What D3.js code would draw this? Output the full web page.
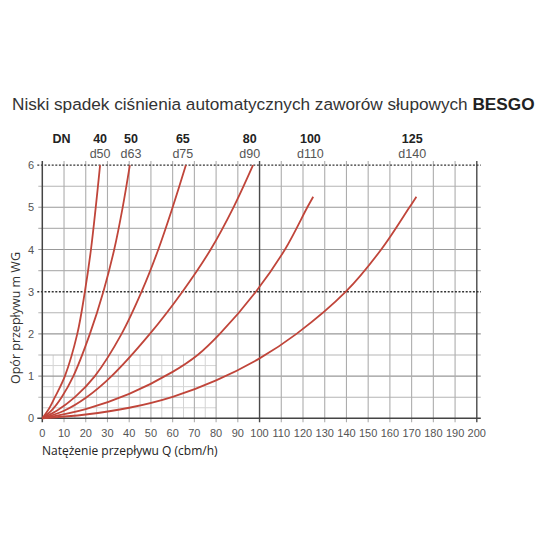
<!DOCTYPE html>
<html>
<head>
<meta charset="utf-8">
<script src="https://cdn.jsdelivr.net/npm/d3@7"></script>
<style>
  body { margin: 0; background: #fff; }
  svg { display: block; }
</style>
</head>
<body>
<svg id="chart" width="550" height="550"></svg>
<script>
// DN sizes and pipe diameters, one curve each
var dnLabels = ["40", "50", "65", "80", "100", "125"];
var pipeLabels = ["d50", "d63", "d75", "d90", "d110", "d140"];

// points: flow Q (cbm/h) and head (m WG)
var flowD50  = [0, 3, 5.8, 10.4, 16.1, 19.6, 22.4, 24.6, 26.6];
var headD50  = [0, 0.22, 0.5, 1, 2, 3, 4, 5, 6];
var flowD63  = [0, 4.5, 8.9, 14.3, 21.9, 28.1, 33.1, 37.0, 40.3];
var headD63  = [0, 0.2, 0.5, 1, 2, 3, 4, 5, 6];
var flowD75  = [0, 7, 15.0, 24.2, 36.5, 45.7, 53.4, 60.0, 66.1];
var headD75  = [0, 0.19, 0.5, 1, 2, 3, 4, 5, 6];
var flowD90  = [0, 10, 20.4, 31.9, 49.5, 64.5, 77.5, 88.0, 97.0];
var headD90  = [0, 0.18, 0.5, 1, 2, 3, 4, 5, 6];
var flowD110 = [0, 20, 40, 60, 71.5, 81.7, 98.3, 111.7, 122.0, 124.7];
var headD110 = [0, 0.22, 0.58, 1.1, 1.5, 2, 3, 4, 5, 5.25];
var flowD140 = [0, 20, 40, 60, 80, 100, 117, 139.7, 156, 169, 172.2];
var headD140 = [0, 0.09, 0.25, 0.51, 0.9, 1.42, 2, 3, 4, 5, 5.25];

var flows = [flowD50, flowD63, flowD75, flowD90, flowD110, flowD140];
var heads = [headD50, headD63, headD75, headD90, headD110, headD140];
// label centres along Q
var labelFlow = [26.6, 40.8, 64.7, 95.5, 123.4, 170.3];

var xTicks = d3.range(0, 201, 10);
var yTicks = [0, 1, 2, 3, 4, 5, 6];

var svg = d3.select("#chart");
var x = d3.scaleLinear().domain([0, 200]).range([42.3, 476.8]);
var y = d3.scaleLinear().domain([0, 6]).range([418.3, 165.1]);

var narrow = "'Liberation Sans Narrow', 'Liberation Sans', Arial, sans-serif";
var sans = "'Liberation Sans', Arial, sans-serif";

// title
var title = svg.append("text")
  .attr("x", 12).attr("y", 110)
  .attr("font-family", sans).attr("font-size", 17.2)
  .attr("fill", "#333");
title.append("tspan").text("Niski spadek ciśnienia automatycznych zaworów słupowych ");
title.append("tspan").attr("font-weight", "bold").attr("fill", "#222").text("BESGO");

// fine grid in lower-left corner
var g = svg.append("g");
var fineX = d3.range(5, 80, 10);
var fineY = [0.25, 0.75, 1.25];
g.selectAll(".fx").data(fineX).enter().append("line")
  .attr("x1", d => x(d)).attr("x2", d => x(d))
  .attr("y1", y(0)).attr("y2", y(1.5))
  .attr("stroke", "#d4d4d4").attr("stroke-width", 1);
g.selectAll(".fy").data(fineY).enter().append("line")
  .attr("x1", x(0)).attr("x2", x(80))
  .attr("y1", d => y(d)).attr("y2", d => y(d))
  .attr("stroke", "#d4d4d4").attr("stroke-width", 1);

// main grid
var hLines = d3.range(0.5, 6, 0.5).filter(d => d !== 3);
g.selectAll(".hy").data(hLines).enter().append("line")
  .attr("x1", x(0) - 4).attr("x2", x(200) + 4)
  .attr("y1", d => y(d)).attr("y2", d => y(d))
  .attr("stroke", d => d % 1 === 0 ? "#999" : "#b5b5b5").attr("stroke-width", 1.1);
g.selectAll(".vx").data(xTicks.slice(1)).enter().append("line")
  .attr("x1", d => x(d)).attr("x2", d => x(d))
  .attr("y1", y(0) + 4).attr("y2", y(6) - 4)
  .attr("stroke", d => d % 100 === 0 ? "#4a4a4a" : "#adadad")
  .attr("stroke-width", d => d % 100 === 0 ? 1.4 : 1.1);

// dotted lines at 3 and 6
g.selectAll(".dot").data([3, 6]).enter().append("line")
  .attr("x1", x(0) - 5).attr("x2", x(200) + 4)
  .attr("y1", d => y(d)).attr("y2", d => y(d))
  .attr("stroke", "#333").attr("stroke-width", 1.4)
  .attr("stroke-dasharray", "2,1.6");

// axes lines
g.append("line")
  .attr("x1", x(0) - 5).attr("x2", x(200) + 4)
  .attr("y1", y(0)).attr("y2", y(0))
  .attr("stroke", "#444").attr("stroke-width", 1.5);
g.append("line")
  .attr("x1", x(0)).attr("x2", x(0))
  .attr("y1", y(0) + 4).attr("y2", y(6) - 4)
  .attr("stroke", "#444").attr("stroke-width", 1.5);

// tick labels
svg.selectAll(".xl").data(xTicks).enter().append("text")
  .attr("x", d => x(d)).attr("y", 437)
  .attr("text-anchor", "middle")
  .attr("font-family", narrow).attr("font-size", 11)
  .attr("fill", "#555").text(d => d);
svg.selectAll(".yl").data(yTicks).enter().append("text")
  .attr("x", 34).attr("y", d => y(d) + 4)
  .attr("text-anchor", "end")
  .attr("font-family", narrow).attr("font-size", 11)
  .attr("fill", "#555").text(d => d);

// axis titles
svg.append("text")
  .attr("x", 42).attr("y", 455)
  .attr("font-family", "'Open Sans', sans-serif").attr("font-size", 12)
  .attr("fill", "#222").text("Natężenie przepływu Q (cbm/h)");
svg.append("text")
  .attr("transform", "translate(20,318) rotate(-90)")
  .attr("text-anchor", "middle")
  .attr("font-family", "'Open Sans', sans-serif").attr("font-size", 12.5)
  .attr("fill", "#333").text("Opór przepływu m WG");

// curves
var line = d3.line()
  .x(d => x(d[0])).y(d => y(d[1]))
  .curve(d3.curveCatmullRom.alpha(0.5));

flows.forEach(function(qs, i) {
  var pts = qs.map((q, j) => [q, heads[i][j]]);
  svg.append("path")
    .attr("d", line(pts))
    .attr("fill", "none")
    .attr("stroke", "#c0453a")
    .attr("stroke-width", 1.8);
});

// DN header
svg.append("text")
  .attr("x", 61.5).attr("y", 143)
  .attr("text-anchor", "middle")
  .attr("font-family", sans).attr("font-weight", "bold").attr("font-size", 12.5)
  .attr("fill", "#222").text("DN");
svg.selectAll(".dn").data(dnLabels).enter().append("text")
  .attr("x", (d, i) => x(labelFlow[i])).attr("y", 143)
  .attr("text-anchor", "middle")
  .attr("font-family", sans).attr("font-weight", "bold").attr("font-size", 12.5)
  .attr("fill", "#222").text(d => d);
svg.selectAll(".pd").data(pipeLabels).enter().append("text")
  .attr("x", (d, i) => x(labelFlow[i])).attr("y", 158)
  .attr("text-anchor", "middle")
  .attr("font-family", sans).attr("font-size", 12.5)
  .attr("fill", "#555").text(d => d);
</script>
</body>
</html>
